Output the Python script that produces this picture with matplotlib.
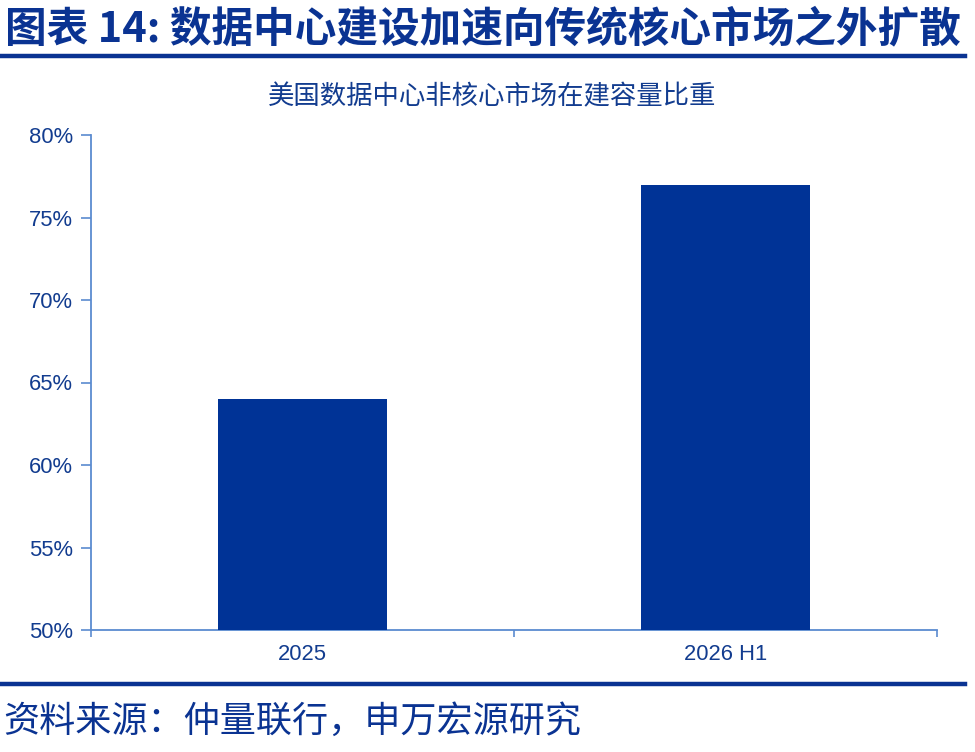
import matplotlib
matplotlib.use("Agg")
import matplotlib.pyplot as plt
from matplotlib.lines import Line2D
from matplotlib.ticker import FixedLocator, NullFormatter

plt.rcParams['font.family'] = ['Noto Sans CJK SC', 'DejaVu Sans']

# ---- data ----
categories = ["2025", "2026 H1"]
values = [64, 77]  # %
yticks = [50, 55, 60, 65, 70, 75, 80]
title = "图表 14: 数据中心建设加速向传统核心市场之外扩散"
subtitle = "美国数据中心非核心市场在建容量比重"
source = "资料来源：仲量联行，申万宏源研究"

# ---- style ----
W, H = 975, 752
DARK = "#0A3392"
BAR = "#003396"
SPINE = "#5B8BD0"
TXT = "#123C8F"

fig = plt.figure(figsize=(W / 100, H / 100), dpi=100)
fig.patch.set_facecolor("white")

ax = fig.add_axes([91 / W, 1 - 630 / H, (937 - 91) / W, (630 - 135) / H])
x = list(range(len(categories)))
ax.bar(x, values, width=0.4, color=BAR, zorder=3)
ax.set_xlim(-0.5, len(categories) - 0.5)
ax.set_ylim(yticks[0], yticks[-1])
ax.set_yticks(yticks)
ax.set_yticklabels([f"{v}%" for v in yticks], family=["Liberation Sans", "DejaVu Sans"],
                   fontsize=15.8, color=TXT)

# boundary ticks (major), labels on minor
ax.xaxis.set_major_locator(FixedLocator([i - 0.5 for i in range(len(categories) + 1)]))
ax.xaxis.set_major_formatter(NullFormatter())
ax.set_xticks(x, minor=True)
ax.set_xticklabels(categories, minor=True, family=["Liberation Sans", "DejaVu Sans"],
                   fontsize=15.8, color=TXT)
ax.tick_params(axis="x", which="major", direction="out", length=5, width=1.2, color=SPINE)
ax.tick_params(axis="x", which="minor", length=0, pad=10)
ax.tick_params(axis="y", direction="out", length=7, width=1.2, color=SPINE, pad=6)

for s in ["top", "right"]:
    ax.spines[s].set_visible(False)
for s in ["left", "bottom"]:
    ax.spines[s].set_color(SPINE)
    ax.spines[s].set_linewidth(1.3)

# ---- title, rules, subtitle, source ----
fig.text(5 / W, 1 - 29 / H, title, fontsize=30, fontweight="bold", color=DARK,
         ha="left", va="center")
fig.add_artist(Line2D([0, 965 / W], [1 - 56 / H, 1 - 56 / H], color=DARK, linewidth=3.2,
                      transform=fig.transFigure))
fig.text(492 / W, 1 - 97 / H, subtitle, fontsize=19, color=TXT, ha="center", va="center")
fig.add_artist(Line2D([0, 965 / W], [1 - 684 / H, 1 - 684 / H], color=DARK, linewidth=3.2,
                      transform=fig.transFigure))
fig.text(3 / W, 1 - 722 / H, source, fontsize=26, color=DARK, ha="left", va="center")

fig.savefig("out.png", dpi=100, facecolor="white")
